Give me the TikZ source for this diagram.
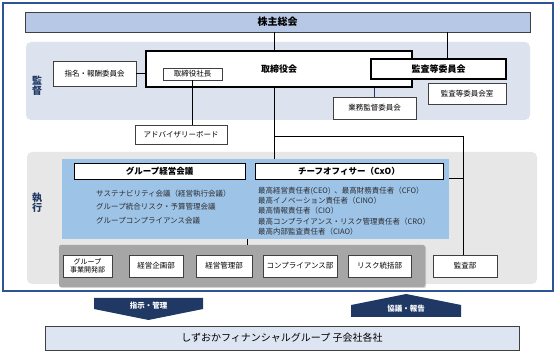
\documentclass[tikz,border=0pt]{standalone}
\usepackage{fontspec}
\setmainfont{Noto Sans CJK JP}
\usetikzlibrary{positioning, shadows}
\definecolor{frameNavy}{RGB}{ 47, 84,150}
\definecolor{arrowNavy}{RGB}{ 31, 56,100}
\definecolor{topBar}{RGB}{182,200,230}
\definecolor{superBand}{RGB}{220,227,239}
\definecolor{execBand}{RGB}{231,231,231}
\definecolor{execBlue}{RGB}{157,195,230}
\definecolor{deptBand}{RGB}{166,166,166}
\definecolor{subFill}{RGB}{221,229,242}
\definecolor{boxLine}{RGB}{ 64, 64, 64}
\definecolor{listInk}{RGB}{ 45, 45, 50}
\tikzset{
    band/.style={rounded corners=5pt, draw=none, inner sep=0pt},
    softshadow/.style={drop shadow={shadow xshift=1pt, shadow yshift=-1pt, opacity=0.35}},
    orgbox/.style={
        draw=boxLine, fill=white, line width=0.8pt, inner sep=1pt,
        align=center, font=\fontsize{7.5pt}{9pt}\selectfont, softshadow
    },
    keybox/.style={orgbox, draw=black, line width=1.6pt, font=\fontsize{9pt}{11pt}\selectfont\bfseries},
    headbox/.style={orgbox, draw=black, line width=0.7pt, font=\fontsize{8.5pt}{10pt}\selectfont\bfseries},
    sidelabel/.style={font=\fontsize{10pt}{10pt}\selectfont\bfseries, text=arrowNavy, align=center},
    listtext/.style={anchor=west, align=left, inner sep=0pt, text=listInk},
    link/.style={draw=black, line width=1pt},
    thinlink/.style={draw=arrowNavy, line width=0.7pt},
    blockarrow/.style={fill=arrowNavy},
    arrowlabel/.style={font=\fontsize{7.5pt}{9pt}\selectfont\bfseries, text=white}
}

\begin{document}
\begin{tikzpicture}[x=1pt, y=-1pt]
  \useasboundingbox (0,0) rectangle (557,355);
  % outer frame and bands
  \draw[frameNavy, line width=1.2pt] (3,3) rectangle (553,291);
  \node[band, fill=superBand, minimum width=504pt, minimum height=78pt] (superv) at (278,81) {};
  \node[band, fill=execBand, minimum width=510pt, minimum height=132pt] (execution) at (282,218) {};
  \node[sidelabel] (supervlbl) at (37,86) {監\\督};
  \node[sidelabel] (execlbl) at (37,203) {執\\行};
  % supervision
  \node[orgbox, fill=topBar, minimum width=505pt, minimum height=20pt,
        font=\fontsize{10pt}{12pt}\selectfont\bfseries] (top) at (277.5,22) {株主総会};
  \node[keybox, minimum width=266pt, minimum height=36pt] (board) at (279,69) {取締役会};
  \node[orgbox, line width=0.6pt, minimum width=59pt, minimum height=12pt, drop shadow={opacity=0}] (pres) at (192.5,74) {取締役社長};
  \node[orgbox, minimum width=83pt, minimum height=25pt] (nom) at (94.5,73.5) {指名・報酬委員会};
  \node[keybox, minimum width=135pt, minimum height=20pt] (ac) at (438.5,69) {監査等委員会};
  \node[orgbox, minimum width=83pt, minimum height=22pt] (bec) at (374.5,108) {業務監督委員会};
  \node[orgbox, minimum width=78pt, minimum height=21pt] (acoffice) at (467,93.5) {監査等委員会室};
  \node[orgbox, minimum width=92pt, minimum height=19pt] (adv) at (181,134.5) {アドバイザリーボード};
  % execution
  \node[band, rounded corners=0pt, fill=execBlue, minimum width=387pt, minimum height=80pt] (exec) at (255.5,199) {};
  \node[headbox, minimum width=171pt, minimum height=16pt] (gmc) at (159.5,171) {グループ経営会議};
  \node[headbox, minimum width=188pt, minimum height=16pt] (cxo) at (349,171) {チーフオフィサー（CxO）};
  \node[listtext, font=\fontsize{7.5pt}{13.5pt}\selectfont] (meetings) at (96,207) {%
    サステナビリティ会議（経営執行会議）\\
    グループ統合リスク・予算管理会議\\
    グループコンプライアンス会議};
  \node[listtext, font=\fontsize{7.5pt}{10.2pt}\selectfont] (officers) at (258,211) {%
    最高経営責任者(CEO)\enspace、最高財務責任者（CFO）\\
    最高イノベーション責任者（CINO）\\
    最高情報責任者（CIO）\\
    最高コンプライアンス・リスク管理責任者（CRO）\\
    最高内部監査責任者（CIAO）};
  \node[band, rounded corners=2pt, fill=deptBand, minimum width=366pt, minimum height=42pt, softshadow] (depts) at (242,266) {};
  \node[orgbox, minimum width=49pt, minimum height=22pt, font=\fontsize{7pt}{8.5pt}\selectfont] (bizdev) at (87.5,266) {グループ\\事業開発部};
  \node[orgbox, minimum width=54pt, minimum height=22pt] (plan) at (156,266) {経営企画部};
  \node[orgbox, minimum width=56pt, minimum height=22pt] (mgmt) at (224,266) {経営管理部};
  \node[orgbox, minimum width=74pt, minimum height=22pt] (compl) at (300,266) {コンプライアンス部};
  \node[orgbox, minimum width=63pt, minimum height=22pt] (risk) at (379.5,266) {リスク統括部};
  \node[orgbox, minimum width=64pt, minimum height=22pt] (audit) at (465,266) {監査部};
  % subsidiaries
  \node[orgbox, fill=subFill, minimum width=474pt, minimum height=24pt,
        font=\fontsize{10pt}{12pt}\selectfont] (subs) at (282,338) {しずおかフィナンシャルグループ 子会社各社};
  \fill[blockarrow] (94,298) -- (203,298) -- (203,309) -- (148.5,320) -- (94,309) -- cycle;
  \fill[blockarrow] (351,317) -- (461,317) -- (461,305) -- (406,294) -- (351,305) -- cycle;
  \node[arrowlabel] (instr) at (148.5,306) {指示・管理};
  \node[arrowlabel] (report) at (406,309) {協議・報告};
  % connectors
  \coordinate (spine) at (274,0);
  \coordinate (acline) at (447,0);
  \coordinate (auditturn) at (463,137);
  \coordinate (cxoturn) at (463,179);
  \coordinate (deptlink) at (247,0);
  \draw[link] (spine |- top.south) -- (spine |- board.north);
  \draw[link] (spine |- board.south) -- (spine |- exec.north);
  \draw[link] (spine |- auditturn) -- (auditturn) -- (auditturn |- audit.north);
  \draw[link] (exec.east |- cxoturn) -- (cxoturn);
  \draw[link] (acline |- top.south) -- (acline |- ac.north);
  \draw[link] (nom.east) -- (nom.east -| board.west);
  \draw[link] (pres.south) -- (pres.south |- adv.north);
  \draw[thinlink] (bec.north |- board.south) -- (bec.north);
  \draw[link] (deptlink |- exec.south) -- (deptlink |- depts.north);
\end{tikzpicture}
\end{document}
